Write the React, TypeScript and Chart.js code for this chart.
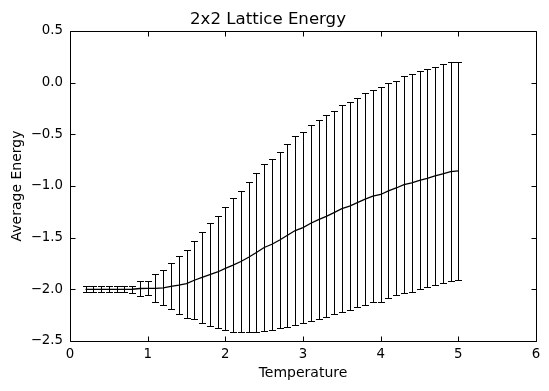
import React, { useEffect, useRef } from "react";
import { Chart, registerables } from "chart.js";

Chart.register(...registerables);

const chartTitle = "2x2 Lattice Energy";
const xLabel = "Temperature";
const yLabel = "Average Energy";

const temperatures = [
  0.2, 0.3, 0.4, 0.5, 0.6, 0.7, 0.8, 0.9, 1.0, 1.1, 1.2, 1.3, 1.4, 1.5, 1.6, 1.7,
  1.8, 1.9, 2.0, 2.1, 2.2, 2.3, 2.4, 2.5, 2.6, 2.7, 2.8, 2.9, 3.0, 3.1, 3.2, 3.3,
  3.4, 3.5, 3.6, 3.7, 3.8, 3.9, 4.0, 4.1, 4.2, 4.3, 4.4, 4.5, 4.6, 4.7, 4.8, 4.9, 5.0,
];

const meanEnergy = [
  -2.0, -2.0, -2.0, -2.0, -2.0, -2.0, -1.999, -1.992, -1.99, -1.99, -1.985, -1.971,
  -1.96, -1.945, -1.912, -1.885, -1.858, -1.832, -1.797, -1.765, -1.731, -1.69,
  -1.644, -1.595, -1.564, -1.523, -1.477, -1.431, -1.402, -1.36, -1.326, -1.293,
  -1.257, -1.219, -1.194, -1.16, -1.127, -1.098, -1.082, -1.047, -1.019, -0.987,
  -0.97, -0.945, -0.926, -0.902, -0.882, -0.861, -0.853,
];

const stdEnergy = [
  0.03, 0.03, 0.03, 0.03, 0.03, 0.03, 0.035, 0.068, 0.068, 0.135, 0.17, 0.223,
  0.279, 0.328, 0.376, 0.439, 0.5, 0.545, 0.597, 0.645, 0.685, 0.726, 0.772,
  0.805, 0.829, 0.855, 0.884, 0.915, 0.921, 0.95, 0.965, 0.977, 0.985, 1.0,
  1.009, 1.014, 1.024, 1.027, 1.037, 1.04, 1.038, 1.051, 1.053, 1.055, 1.055,
  1.056, 1.06, 1.058, 1.056,
];

const xTickMin = 0;
const xTickMax = 6;
const xTickStep = 1;
const yTickMin = -2.5;
const yTickMax = 0.5;
const yTickStep = 0.5;

const FONT = "'DejaVu Sans', 'Liberation Sans', sans-serif";

const fmtY = (v: number) => {
  if (Math.abs(v) < 1e-9) return "0.0";
  return (v < 0 ? "\u2212" : "") + Math.abs(v).toFixed(1);
};

const errorBarPlugin = {
  id: "errorBarsAndFrame",
  afterDatasetsDraw(chart: any) {
    const { ctx, chartArea, scales } = chart;
    const x = scales.x;
    const y = scales.y;
    ctx.save();
    ctx.strokeStyle = "#000";
    ctx.lineWidth = 1;
    const cap = 3.5;
    temperatures.forEach((t, i) => {
      const px = Math.round(x.getPixelForValue(t)) + 0.5;
      const top = Math.round(y.getPixelForValue(meanEnergy[i] + stdEnergy[i])) + 0.5;
      const bot = Math.round(y.getPixelForValue(meanEnergy[i] - stdEnergy[i])) + 0.5;
      ctx.beginPath();
      ctx.moveTo(px, top);
      ctx.lineTo(px, bot);
      ctx.moveTo(px - cap, top);
      ctx.lineTo(px + cap, top);
      ctx.moveTo(px - cap, bot);
      ctx.lineTo(px + cap, bot);
      ctx.stroke();
    });
    // frame
    const l = Math.round(chartArea.left) + 0.5;
    const r = Math.round(chartArea.right) + 0.5;
    const tp = Math.round(chartArea.top) + 0.5;
    const b = Math.round(chartArea.bottom) + 0.5;
    ctx.beginPath();
    ctx.rect(l, tp, r - l, b - tp);
    ctx.stroke();
    // inward ticks on all sides
    const tl = 5;
    ctx.beginPath();
    x.ticks.forEach((tk: any) => {
      const px = Math.round(x.getPixelForValue(tk.value)) + 0.5;
      ctx.moveTo(px, b);
      ctx.lineTo(px, b - tl);
      ctx.moveTo(px, tp);
      ctx.lineTo(px, tp + tl);
    });
    y.ticks.forEach((tk: any) => {
      const py = Math.round(y.getPixelForValue(tk.value)) + 0.5;
      ctx.moveTo(l, py);
      ctx.lineTo(l + tl, py);
      ctx.moveTo(r, py);
      ctx.lineTo(r - tl, py);
    });
    ctx.stroke();
    ctx.restore();
  },
};

export default function App() {
  const ref = useRef<HTMLCanvasElement | null>(null);
  useEffect(() => {
    document.body.style.margin = "0";
    const canvas = ref.current;
    if (!canvas) return;
    Chart.defaults.font.family = FONT;
    Chart.defaults.color = "#000";
    const chart = new Chart(canvas, {
      type: "line",
      data: {
        datasets: [
          {
            data: temperatures.map((t, i) => ({ x: t, y: meanEnergy[i] })),
            borderColor: "#000",
            backgroundColor: "#000",
            borderWidth: 1.3,
            pointRadius: 0,
            tension: 0,
            fill: false,
          },
        ],
      },
      options: {
        responsive: false,
        animation: false,
        devicePixelRatio: 1,
        layout: { padding: { left: 0, right: 13, top: 0, bottom: 0 } },
        plugins: {
          legend: { display: false },
          tooltip: { enabled: false },
          title: {
            display: true,
            text: chartTitle,
            color: "#000",
            font: { size: 16.6, weight: "normal", family: FONT },
            padding: { top: 10, bottom: 1.1 },
          },
        },
        scales: {
          x: {
            type: "linear",
            min: xTickMin,
            max: xTickMax,
            grid: { display: false, drawTicks: false },
            border: { display: false },
            ticks: {
              stepSize: xTickStep,
              padding: 6,
              color: "#000",
              font: { size: 13.33, family: FONT },
              maxRotation: 0,
              callback: (v: any) => String(Math.round(Number(v))),
            },
            title: {
              display: true,
              text: xLabel,
              color: "#000",
              font: { size: 14, family: FONT },
              padding: { top: 0, bottom: 9 },
            },
            afterFit: (s: any) => {
              s.height = 50;
            },
          },
          y: {
            type: "linear",
            min: yTickMin,
            max: yTickMax,
            grid: { display: false, drawTicks: false },
            border: { display: false },
            ticks: {
              stepSize: yTickStep,
              padding: 7,
              color: "#000",
              font: { size: 13.33, family: FONT },
              callback: (v: any) => fmtY(Number(v)),
            },
            title: {
              display: true,
              text: yLabel,
              color: "#000",
              font: { size: 14, family: FONT },
              padding: { top: 9, bottom: 0 },
            },
            afterFit: (s: any) => {
              s.width = 70;
            },
          },
        },
      },
      plugins: [errorBarPlugin],
    } as any);
    return () => chart.destroy();
  }, []);
  return (
    <div style={{ width: 549, height: 391 }}>
      <canvas ref={ref} width={549} height={391} style={{ display: "block" }} />
    </div>
  );
}
